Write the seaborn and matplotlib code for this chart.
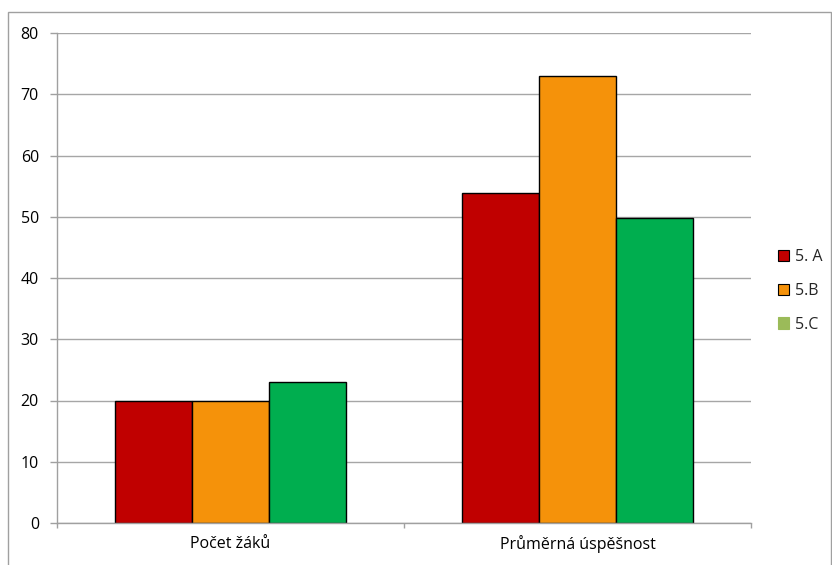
import numpy as np
import pandas as pd
import matplotlib
matplotlib.use("Agg")
import matplotlib.pyplot as plt
import seaborn as sns
from matplotlib.patches import Patch, Rectangle

# data
categories = ["Počet žáků", "Průměrná úspěšnost"]
classes = ["5. A", "5.B", "5.C"]
values_5a = [20, 53.9]
values_5b = [20, 73]
values_5c = [23, 49.8]

bar_colors = ["#C00000", "#F5920A", "#00AE4F"]
legend_colors = ["#C00000", "#F5920A", "#9BBB59"]

df = pd.DataFrame({
    "kategorie": categories * 3,
    "trida": [classes[0]] * 2 + [classes[1]] * 2 + [classes[2]] * 2,
    "hodnota": values_5a + values_5b + values_5c,
})

sns.set_theme(style="white")
plt.rcParams["font.family"] = ["Open Sans", "DejaVu Sans"]

W, H = 832, 565
fig = plt.figure(figsize=(W / 100, H / 100), dpi=100)
ax = fig.add_axes([57 / W, 1 - 523 / H, (751 - 57) / W, (523 - 33) / H])

sns.barplot(data=df, x="kategorie", y="hodnota", hue="trida",
            palette=bar_colors, width=0.668, edgecolor="black",
            linewidth=1, saturation=1, legend=False, ax=ax)

ax.set_xlim(-0.5, 1.5)
ax.set_ylim(0, 80)
ax.set_yticks(np.arange(0, 81, 10))
ax.yaxis.grid(True, color="#A6A6A6", linewidth=1)
ax.set_axisbelow(True)
ax.set_xlabel("")
ax.set_ylabel("")

for s in ["top", "right"]:
    ax.spines[s].set_visible(False)
for s in ["left", "bottom"]:
    ax.spines[s].set_color("#A0A0A0")
    ax.spines[s].set_linewidth(1)

# category boundary tick marks on the x-axis
ax.set_xticks([-0.5, 0.5, 1.5], minor=True)
ax.tick_params(axis="x", which="minor", length=3.6, color="#A0A0A0", width=1, bottom=True)
ax.tick_params(axis="x", which="major", length=0, labelsize=11.5, colors="#000000", pad=9)
ax.tick_params(axis="y", length=5, color="#A0A0A0", width=1, left=True,
               labelsize=11.5, colors="#000000", pad=8)

handles = [Patch(facecolor=c, edgecolor="black" if i < 2 else c, linewidth=0.8)
           for i, c in enumerate(legend_colors)]
fig.legend(handles, classes, loc="center left", bbox_to_anchor=(778 / W, 1 - 291 / H),
           frameon=False, fontsize=11.5, handlelength=0.7, handleheight=0.7,
           handletextpad=0.35, labelspacing=1.1, borderpad=0, borderaxespad=0)

# outer chart-area frame
fig.patches.append(Rectangle((8 / W, -0.05), (831 - 8) / W, 1.05 - 12 / H,
                             transform=fig.transFigure, fill=False,
                             edgecolor="#A0A0A0", linewidth=1))

fig.savefig("out.png", dpi=100)
